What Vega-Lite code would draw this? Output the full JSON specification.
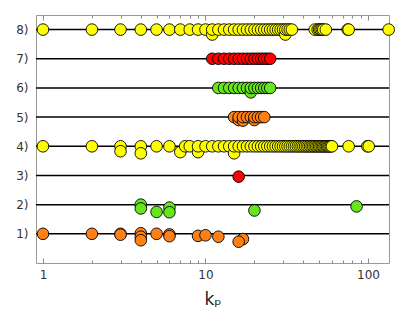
{
  "$schema": "https://vega.github.io/schema/vega-lite/v6.json",
  "width": 353,
  "height": 248,
  "autosize": "none",
  "padding": {"left": 36, "top": 15, "right": 26, "bottom": 49},
  "config": {
    "view": {"stroke": "#999999", "strokeWidth": 1},
    "font": "DejaVu Sans",
    "axis": {"labelOverlap": false}
  },
  "datasets": {
    "rows": [{"r": 1}, {"r": 2}, {"r": 3}, {"r": 4}, {"r": 5}, {"r": 6}, {"r": 7}, {"r": 8}],
    "pts": [
      {"kp": 1, "y": 1, "g": "orange"}, {"kp": 2, "y": 1, "g": "orange"}, {"kp": 3, "y": 1, "g": "orange"}, {"kp": 3, "y": 0.97, "g": "orange"},
      {"kp": 4, "y": 1.02, "g": "orange"}, {"kp": 4, "y": 0.9, "g": "orange"}, {"kp": 4, "y": 0.78, "g": "orange"},
      {"kp": 5, "y": 1, "g": "orange"}, {"kp": 6, "y": 0.98, "g": "orange"}, {"kp": 6, "y": 0.92, "g": "orange"},
      {"kp": 9, "y": 0.93, "g": "orange"}, {"kp": 10, "y": 0.95, "g": "orange"}, {"kp": 12, "y": 0.9, "g": "orange"},
      {"kp": 17, "y": 0.82, "g": "orange"}, {"kp": 16, "y": 0.73, "g": "orange"},

      {"kp": 4, "y": 2.0, "g": "green"}, {"kp": 4, "y": 1.87, "g": "green"}, {"kp": 5, "y": 1.75, "g": "green"},
      {"kp": 6, "y": 1.9, "g": "green"}, {"kp": 6, "y": 1.74, "g": "green"}, {"kp": 20, "y": 1.8, "g": "green"}, {"kp": 85, "y": 1.94, "g": "green"},

      {"kp": 16, "y": 2.96, "g": "red"},

      {"kp": 1, "y": 4, "g": "yellow"}, {"kp": 2, "y": 4, "g": "yellow"}, {"kp": 3, "y": 4, "g": "yellow"}, {"kp": 3, "y": 3.83, "g": "yellow"},
      {"kp": 4, "y": 4, "g": "yellow"}, {"kp": 4, "y": 3.76, "g": "yellow"}, {"kp": 5, "y": 4, "g": "yellow"}, {"kp": 6, "y": 4, "g": "yellow"},
      {"kp": 7, "y": 3.8, "g": "yellow"}, {"kp": 7.5, "y": 4, "g": "yellow"}, {"kp": 8, "y": 4, "g": "yellow"}, {"kp": 9, "y": 3.8, "g": "yellow"}, {"kp": 9, "y": 4, "g": "yellow"},
      {"kp": 10, "y": 4, "g": "yellow"}, {"kp": 11, "y": 4, "g": "yellow"}, {"kp": 12, "y": 4, "g": "yellow"}, {"kp": 13, "y": 4, "g": "yellow"}, {"kp": 14, "y": 4, "g": "yellow"},
      {"kp": 15, "y": 3.76, "g": "yellow"}, {"kp": 15, "y": 4, "g": "yellow"}, {"kp": 16, "y": 4, "g": "yellow"}, {"kp": 17, "y": 4, "g": "yellow"}, {"kp": 18, "y": 4, "g": "yellow"},
      {"kp": 19, "y": 4, "g": "yellow"}, {"kp": 20, "y": 4, "g": "yellow"}, {"kp": 21, "y": 4, "g": "yellow"}, {"kp": 22, "y": 4, "g": "yellow"}, {"kp": 23, "y": 4, "g": "yellow"},
      {"kp": 24, "y": 4, "g": "yellow"}, {"kp": 25, "y": 4, "g": "yellow"}, {"kp": 26, "y": 4, "g": "yellow"}, {"kp": 27, "y": 4, "g": "yellow"}, {"kp": 28, "y": 4, "g": "yellow"},
      {"kp": 29, "y": 4, "g": "yellow"}, {"kp": 30, "y": 4, "g": "yellow"}, {"kp": 31, "y": 4, "g": "yellow"}, {"kp": 32, "y": 4, "g": "yellow"}, {"kp": 33, "y": 4, "g": "yellow"},
      {"kp": 34, "y": 4, "g": "yellow"}, {"kp": 35, "y": 4, "g": "yellow"}, {"kp": 36, "y": 4, "g": "yellow"}, {"kp": 37, "y": 4, "g": "yellow"}, {"kp": 38, "y": 4, "g": "yellow"},
      {"kp": 39, "y": 4, "g": "yellow"}, {"kp": 40, "y": 4, "g": "yellow"}, {"kp": 41, "y": 4, "g": "yellow"}, {"kp": 42, "y": 4, "g": "yellow"}, {"kp": 43, "y": 4, "g": "yellow"},
      {"kp": 44, "y": 4, "g": "yellow"}, {"kp": 45, "y": 4, "g": "yellow"}, {"kp": 46, "y": 4, "g": "yellow"}, {"kp": 47, "y": 4, "g": "yellow"}, {"kp": 48, "y": 4, "g": "yellow"},
      {"kp": 49, "y": 4, "g": "yellow"}, {"kp": 50, "y": 4, "g": "yellow"}, {"kp": 51, "y": 4, "g": "yellow"}, {"kp": 52, "y": 4, "g": "yellow"}, {"kp": 53, "y": 4, "g": "yellow"},
      {"kp": 54, "y": 4, "g": "yellow"}, {"kp": 55, "y": 4, "g": "yellow"}, {"kp": 56, "y": 4, "g": "yellow"}, {"kp": 57, "y": 4, "g": "yellow"}, {"kp": 58, "y": 4, "g": "yellow"},
      {"kp": 59, "y": 4, "g": "yellow"}, {"kp": 60, "y": 4, "g": "yellow"}, {"kp": 76, "y": 4, "g": "yellow"}, {"kp": 99, "y": 4, "g": "yellow"}, {"kp": 101, "y": 4, "g": "yellow"},

      {"kp": 15, "y": 5, "g": "orange"}, {"kp": 16, "y": 4.9, "g": "orange"}, {"kp": 16, "y": 5, "g": "orange"}, {"kp": 17, "y": 4.88, "g": "orange"}, {"kp": 17, "y": 5, "g": "orange"},
      {"kp": 18, "y": 5, "g": "orange"}, {"kp": 19, "y": 5, "g": "orange"}, {"kp": 20, "y": 4.9, "g": "orange"}, {"kp": 20, "y": 5, "g": "orange"}, {"kp": 21, "y": 5, "g": "orange"},
      {"kp": 22, "y": 5, "g": "orange"}, {"kp": 23, "y": 5, "g": "orange"},

      {"kp": 12, "y": 6, "g": "green"}, {"kp": 13, "y": 6, "g": "green"}, {"kp": 14, "y": 6, "g": "green"}, {"kp": 15, "y": 6, "g": "green"}, {"kp": 16, "y": 6, "g": "green"},
      {"kp": 17, "y": 6, "g": "green"}, {"kp": 18, "y": 6, "g": "green"}, {"kp": 19, "y": 5.85, "g": "green"}, {"kp": 19, "y": 6, "g": "green"}, {"kp": 20, "y": 6, "g": "green"},
      {"kp": 21, "y": 6, "g": "green"}, {"kp": 22, "y": 6, "g": "green"}, {"kp": 23, "y": 6, "g": "green"}, {"kp": 24, "y": 6, "g": "green"}, {"kp": 25, "y": 6, "g": "green"},

      {"kp": 11, "y": 7, "g": "red"}, {"kp": 12, "y": 7, "g": "red"}, {"kp": 13, "y": 7, "g": "red"}, {"kp": 14, "y": 7, "g": "red"}, {"kp": 15, "y": 7, "g": "red"},
      {"kp": 16, "y": 7, "g": "red"}, {"kp": 17, "y": 7, "g": "red"}, {"kp": 18, "y": 7, "g": "red"}, {"kp": 19, "y": 7, "g": "red"}, {"kp": 20, "y": 7, "g": "red"},
      {"kp": 21, "y": 7, "g": "red"}, {"kp": 22, "y": 7, "g": "red"}, {"kp": 23, "y": 7, "g": "red"}, {"kp": 24, "y": 7, "g": "red"}, {"kp": 25, "y": 7, "g": "red"},

      {"kp": 1, "y": 8, "g": "yellow"}, {"kp": 2, "y": 8, "g": "yellow"}, {"kp": 3, "y": 8, "g": "yellow"}, {"kp": 4, "y": 8, "g": "yellow"}, {"kp": 5, "y": 8, "g": "yellow"},
      {"kp": 6, "y": 8, "g": "yellow"}, {"kp": 7, "y": 8, "g": "yellow"}, {"kp": 8, "y": 8, "g": "yellow"}, {"kp": 9, "y": 8, "g": "yellow"}, {"kp": 10, "y": 8, "g": "yellow"},
      {"kp": 11, "y": 7.83, "g": "yellow"}, {"kp": 11, "y": 8, "g": "yellow"}, {"kp": 12, "y": 8, "g": "yellow"}, {"kp": 13, "y": 8, "g": "yellow"}, {"kp": 14, "y": 8, "g": "yellow"},
      {"kp": 15, "y": 8, "g": "yellow"}, {"kp": 16, "y": 8, "g": "yellow"}, {"kp": 17, "y": 8, "g": "yellow"}, {"kp": 18, "y": 8, "g": "yellow"}, {"kp": 19, "y": 8, "g": "yellow"},
      {"kp": 20, "y": 8, "g": "yellow"}, {"kp": 21, "y": 8, "g": "yellow"}, {"kp": 22, "y": 8, "g": "yellow"}, {"kp": 23, "y": 8, "g": "yellow"}, {"kp": 24, "y": 8, "g": "yellow"},
      {"kp": 25, "y": 8, "g": "yellow"}, {"kp": 26, "y": 8, "g": "yellow"}, {"kp": 27, "y": 8, "g": "yellow"}, {"kp": 28, "y": 8, "g": "yellow"}, {"kp": 29, "y": 8, "g": "yellow"},
      {"kp": 30, "y": 8, "g": "yellow"}, {"kp": 31, "y": 7.83, "g": "yellow"}, {"kp": 31, "y": 8, "g": "yellow"}, {"kp": 32, "y": 8, "g": "yellow"}, {"kp": 33, "y": 8, "g": "yellow"},
      {"kp": 34, "y": 8, "g": "yellow"}, {"kp": 47, "y": 8, "g": "yellow"}, {"kp": 49, "y": 8, "g": "yellow"}, {"kp": 50, "y": 8, "g": "yellow"}, {"kp": 51, "y": 8, "g": "yellow"},
      {"kp": 52, "y": 8, "g": "yellow"}, {"kp": 53, "y": 8, "g": "yellow"}, {"kp": 55, "y": 8, "g": "yellow"}, {"kp": 75, "y": 8, "g": "yellow"}, {"kp": 76, "y": 8, "g": "yellow"},
      {"kp": 134, "y": 8, "g": "yellow"}
    ]
  },
  "layer": [
    {
      "data": {"name": "rows"},
      "mark": {"type": "rule", "color": "black", "strokeWidth": 1.5},
      "encoding": {
        "y": {
          "field": "r", "type": "quantitative",
          "scale": {"domain": [0, 8.5], "nice": false, "zero": false},
          "axis": {
            "title": null, "values": [1, 2, 3, 4, 5, 6, 7, 8],
            "labelExpr": "datum.value + ')'", "labelOverlap": false,
            "labelFontSize": 12, "labelColor": "#333", "labelPadding": 8,
            "ticks": false, "domain": false, "grid": false
          }
        }
      }
    },
    {
      "data": {"name": "pts"},
      "mark": {"type": "circle", "size": 135, "opacity": 1, "stroke": "black", "strokeWidth": 0.9},
      "encoding": {
        "x": {
          "field": "kp", "type": "quantitative",
          "scale": {"type": "log", "domain": [0.906, 134.6], "nice": false},
          "axis": {
            "title": "kₚ",
            "titleFont": "DejaVu Sans", "titleFontSize": 17, "titleFontWeight": "normal", "titleColor": "#222", "titlePadding": 9,
            "values": [1, 2, 3, 4, 5, 6, 7, 8, 9, 10, 20, 30, 40, 50, 60, 70, 80, 90, 100],
            "labelExpr": "datum.value == 1 || datum.value == 10 || datum.value == 100 ? datum.label : ''",
            "labelFontSize": 12, "labelColor": "#333", "labelPadding": 11, "labelOverlap": false,
            "domain": false, "grid": false,
            "tickColor": "#888",
            "tickSize": {"condition": {"test": "datum.value == 1 || datum.value == 10 || datum.value == 100", "value": -5}, "value": -3}
          }
        },
        "y": {
          "field": "y", "type": "quantitative",
          "scale": {"domain": [0, 8.5], "nice": false, "zero": false},
          "axis": {
            "title": null, "values": [1, 2, 3, 4, 5, 6, 7, 8],
            "labelExpr": "datum.value + ')'", "labelOverlap": false,
            "labelFontSize": 12, "labelColor": "#333", "labelPadding": 8,
            "ticks": false, "domain": false, "grid": false
          }
        },
        "color": {
          "field": "g", "type": "nominal", "legend": null,
          "scale": {"domain": ["yellow", "red", "green", "orange"], "range": ["#ffff00", "#ff0000", "#66e61e", "#ff8014"]}
        }
      }
    },
    {
      "data": {"name": "pts"},
      "mark": {"type": "point", "opacity": 0},
      "encoding": {
        "x": {
          "field": "kp", "type": "quantitative",
          "axis": {
            "orient": "top", "title": null, "labels": false, "domain": false, "grid": false,
            "values": [1, 2, 3, 4, 5, 6, 7, 8, 9, 10, 20, 30, 40, 50, 60, 70, 80, 90, 100],
            "tickColor": "#888",
            "tickSize": {"condition": {"test": "datum.value == 1 || datum.value == 10 || datum.value == 100", "value": -5}, "value": -3}
          }
        }
      }
    }
  ],
  "resolve": {"axis": {"x": "independent"}}
}
